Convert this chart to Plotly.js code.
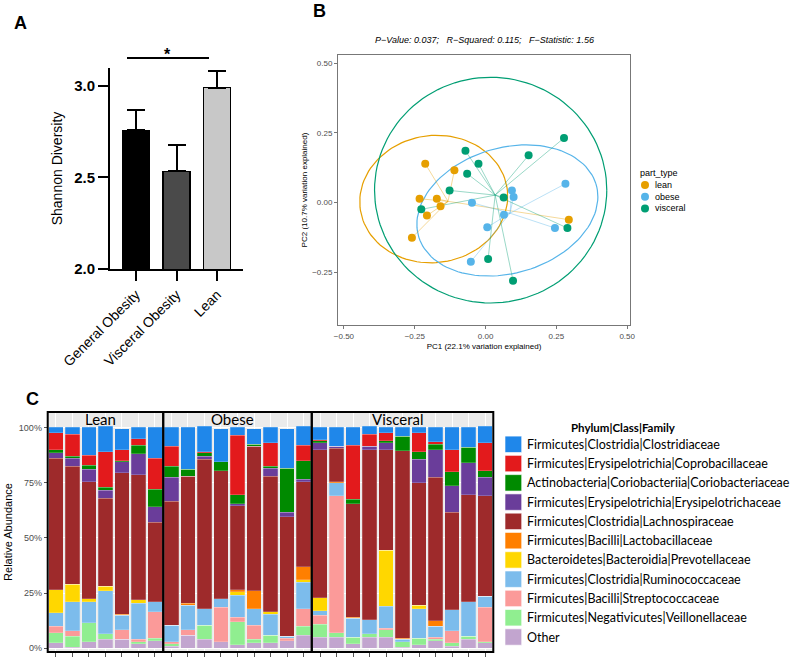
<!DOCTYPE html>
<html>
<head>
<meta charset="utf-8">
<script src="https://cdn.plot.ly/plotly-3.0.1.min.js"></script>
<style>
  body { margin: 0; background: #fff; }
  #chart { width: 800px; height: 665px; }
</style>
</head>
<body>
<div id="chart"></div>
<script>
// ---- panel A: Shannon diversity ----
const diversityGroups = ['General Obesity', 'Visceral Obesity', 'Lean'];
const shannonMean = [2.757, 2.534, 2.991];
const shannonErr = [0.11, 0.145, 0.09];
const diversityColors = ['#000000', '#4a4a4a', '#c8c8c8'];

// ---- panel B: PCoA (betadisper) ----
const pcoaGroups = ['lean', 'obese', 'visceral'];
const pcoaColors = ['#E69F00', '#56B4E9', '#009E73'];
const leanPC1 = [-0.213, -0.110, -0.233, -0.172, -0.159, -0.207, -0.260, 0.294];
const leanPC2 = [0.139, 0.115, 0.013, 0.013, -0.014, -0.047, -0.127, -0.062];
const obesePC1 = [0.093, 0.099, -0.048, 0.065, 0.006, 0.245, -0.052, 0.282];
const obesePC2 = [0.043, 0.019, -0.001, -0.044, -0.089, -0.092, -0.213, 0.067];
const visceralPC1 = [-0.071, -0.025, -0.065, -0.127, -0.227, 0.064, 0.009, 0.097, 0.152, 0.289, 0.277];
const visceralPC2 = [0.185, 0.139, 0.103, 0.043, -0.025, 0.018, -0.203, -0.281, 0.169, -0.092, 0.231];
// ellipse parameters
const ellipseCx = [-0.183, 0.077, 0.018];
const ellipseCy = [0.012, -0.029, 0.044];
const ellipseA = [0.262, 0.327, 0.41];
const ellipseB = [0.228, 0.225, 0.405];
const ellipseDeg = [9, 17, 0];

// ---- panel C: relative abundance ----
const sampleGroups = ['Lean', 'Obese', 'Visceral'];
const groupSizes = [7, 9, 11];
const familyNames = [
  'Firmicutes|Clostridia|Clostridiaceae',
  'Firmicutes|Erysipelotrichia|Coprobacillaceae',
  'Actinobacteria|Coriobacteriia|Coriobacteriaceae',
  'Firmicutes|Erysipelotrichia|Erysipelotrichaceae',
  'Firmicutes|Clostridia|Lachnospiraceae',
  'Firmicutes|Bacilli|Lactobacillaceae',
  'Bacteroidetes|Bacteroidia|Prevotellaceae',
  'Firmicutes|Clostridia|Ruminococcaceae',
  'Firmicutes|Bacilli|Streptococcaceae',
  'Firmicutes|Negativicutes|Veillonellaceae',
  'Other'
];
const familyColors = ['#1f87ea', '#e31a1c', '#008a00', '#6a3d9a', '#9e2a2b', '#ff7f00',
  '#ffd700', '#7cbcec', '#fb9a99', '#90ee90', '#c2a5cf'];

const clostridiaceae = [2.5, 3, 12.5, 11.5, 9.5, 5, 14,  8.5, 19, 11.5, 15, 3.5, 7, 7, 18, 8.5,  5.5, 8.5, 8, 3.5, 2.5, 4, 2.5, 6.5, 10, 9, 7.5];
const coprobacillaceae = [7.5, 10, 4.5, 16, 5, 3, 14,  9, 0, 0.5, 0, 27, 0, 10.5, 0, 7,  0.5, 0, 24.5, 5.5, 3.5, 0, 8.5, 1, 10, 0, 12.5];
const coriobacteriaceae = [1.5, 1, 2, 1.5, 0.5, 4, 8,  5, 3, 1.5, 4, 4, 1, 1, 20, 8.5,  1, 0, 2, 0, 1, 6.5, 3.5, 2.5, 6.5, 7, 3];
const erysipelotrichaceae = [2.5, 3.5, 5.5, 3.5, 5, 9.5, 7,  11, 0, 1.5, 0, 1, 0, 3.5, 2, 1,  3, 1, 0, 1.5, 3, 0, 10.5, 12.5, 12, 14.5, 8.5];
const lachnospiraceae = [59.5, 53.5, 53, 40, 64, 56.5, 36,  56, 57.5, 67.5, 58, 38, 65.5, 61.5, 54, 38.5,  67, 15, 51.5, 77, 45.5, 85, 55.5, 65, 44, 48.5, 45.5];
const lactobacillaceae = [0, 0, 0, 0, 0.5, 0, 0,  0, 1, 0, 0, 1, 8, 0, 0, 6,  0, 0.5, 0.5, 0, 0, 0.5, 0, 2.5, 0, 0, 0];
const prevotellaceae = [10.5, 8, 1.5, 2, 0, 1.5, 0,  0, 0, 0, 0, 1.5, 0, 1, 0, 1,  6, 0, 0, 0, 25.5, 0, 1.5, 0, 0, 0, 0];
const ruminococcaceae = [6, 13, 9.5, 19.5, 6.5, 16.5, 4.5,  7.5, 11, 7.5, 4, 10, 7.5, 9.5, 1, 12,  2, 6, 8.5, 6.5, 10, 1, 13.5, 5, 9.5, 15.5, 5];
const streptococcaceae = [3, 2.5, 0, 0, 4.5, 1, 12,  1, 2.5, 0, 15.5, 2, 6.5, 0, 1, 8,  4, 62, 0, 0, 0.5, 0, 0, 1, 5.5, 0, 15.5];
const veillonellaceae = [4.5, 5, 8.5, 2.5, 0, 1, 1,  1, 0, 6.5, 0, 10.5, 1.5, 3.5, 0, 4,  6, 2, 3, 1.5, 3.5, 2.5, 3, 0.5, 1.5, 1.5, 0.5];
const otherFamilies = [2.5, 0.5, 3, 4, 4, 2, 3.5,  1, 6, 4, 3, 1.5, 2.5, 2.5, 3.5, 6,  5, 5, 2, 5, 5, 0.5, 1.5, 3.5, 1, 4, 2.5];

const familyValues = [clostridiaceae, coprobacillaceae, coriobacteriaceae, erysipelotrichaceae,
  lachnospiraceae, lactobacillaceae, prevotellaceae, ruminococcaceae, streptococcaceae,
  veillonellaceae, otherFamilies];
const abundanceTicks = [0, 25, 50, 75, 100];

// pixel -> paper helpers
const W = 800, H = 665;
const px = x => x / W;
const py = y => 1 - y / H;

const FONT = 'Liberation Sans, Arial, sans-serif';
const CFONT = 'Lato, Open Sans, sans-serif';

let traces = [];
let shapes = [];
let annotations = [];

// text placed in pixel terms, anchors always explicit
function label(text, x, y, xanchor, size, family, extra) {
  annotations.push(Object.assign({
    text: text, xref: 'paper', yref: 'paper', x: px(x), y: py(y),
    xanchor: xanchor, yanchor: 'middle', showarrow: false, borderpad: 0,
    font: { family: family, size: size, color: '#000' }
  }, extra || {}));
}

// panel A
traces.push({
  type: 'bar', x: diversityGroups, y: shannonMean, width: 0.66,
  marker: { color: diversityColors, line: { color: '#000', width: 1.5 } },
  error_y: { type: 'data', array: shannonErr, arrayminus: shannonErr.map(() => 0), symmetric: false,
    color: '#000', thickness: 2, width: 9 },
  xaxis: 'x', yaxis: 'y', showlegend: false, hoverinfo: 'skip'
});
shapes.push({ type: 'line', xref: 'paper', yref: 'paper', x0: px(127), x1: px(209), y0: py(58), y1: py(58),
  line: { color: '#000', width: 2 } });
label('<b>*</b>', 167, 55, 'center', 16, FONT);

// panel B
const pcoaX = [leanPC1, obesePC1, visceralPC1];
const pcoaY = [leanPC2, obesePC2, visceralPC2];
const fadeColors = ['rgba(230,159,0,0.4)', 'rgba(86,180,233,0.4)', 'rgba(0,158,115,0.4)'];

pcoaGroups.forEach((g, i) => {
  // ellipse outline
  const ex = [], ey = [];
  const th = ellipseDeg[i] * Math.PI / 180;
  for (let k = 0; k <= 120; k++) {
    const t = 2 * Math.PI * k / 120;
    ex.push(ellipseCx[i] + ellipseA[i] * Math.cos(t) * Math.cos(th) - ellipseB[i] * Math.sin(t) * Math.sin(th));
    ey.push(ellipseCy[i] + ellipseA[i] * Math.cos(t) * Math.sin(th) + ellipseB[i] * Math.sin(t) * Math.cos(th));
  }
  traces.push({ type: 'scatter', mode: 'lines', x: ex, y: ey, line: { color: pcoaColors[i], width: 1.2 },
    xaxis: 'x2', yaxis: 'y2', showlegend: false, hoverinfo: 'skip' });
});
pcoaGroups.forEach((g, i) => {
  // spider lines from the group centroid
  const xs = pcoaX[i], ys = pcoaY[i];
  const cx = xs.reduce((a, b) => a + b, 0) / xs.length;
  const cy = ys.reduce((a, b) => a + b, 0) / ys.length;
  const lx = [], ly = [];
  xs.forEach((v, k) => { lx.push(cx, v, null); ly.push(cy, ys[k], null); });
  traces.push({ type: 'scatter', mode: 'lines', x: lx, y: ly, line: { color: fadeColors[i], width: 1 },
    xaxis: 'x2', yaxis: 'y2', showlegend: false, hoverinfo: 'skip' });
});
pcoaGroups.forEach((g, i) => {
  traces.push({ type: 'scatter', mode: 'markers', x: pcoaX[i], y: pcoaY[i], name: g,
    marker: { color: pcoaColors[i], size: 8 }, xaxis: 'x2', yaxis: 'y2', showlegend: false });
});
label('P\u2212Value: 0.037;   R\u2212Squared: 0.115;   F\u2212Statistic: 1.56', 485, 40, 'center', 9, FONT,
  { font: { family: FONT, size: 9, style: 'italic', color: '#000' } });
// legend for B
label('part_type', 639, 173, 'left', 9, FONT);
pcoaGroups.forEach((g, i) => {
  const yc = 185 + i * 11.7;
  shapes.push({ type: 'circle', xref: 'paper', yref: 'paper', x0: px(641), x1: px(649), y0: py(yc + 4), y1: py(yc - 4),
    fillcolor: pcoaColors[i], line: { width: 0 } });
  label(g, 654, yc, 'left', 9, FONT);
});

// panel C
const sampleIds = [];
sampleGroups.forEach((g, i) => { for (let k = 1; k <= groupSizes[i]; k++) sampleIds.push(g + ' ' + k); });
for (let i = familyNames.length - 1; i >= 0; i--) {
  traces.push({ type: 'bar', x: sampleIds, y: familyValues[i], name: familyNames[i],
    marker: { color: familyColors[i], line: { color: 'rgba(255,255,255,0.5)', width: 0.4 } },
    xaxis: 'x3', yaxis: 'y3', showlegend: false, hoverinfo: 'name+y' });
}
const cLeft = 47.7, cRight = 493.3;
const cDom = [px(cLeft), px(cRight)];
const cTop = py(412), cBot = py(652);
shapes.push({ type: 'rect', xref: 'paper', yref: 'paper', x0: cDom[0], x1: cDom[1], y0: cBot, y1: cTop,
  fillcolor: '#ebebeb', line: { width: 0 }, layer: 'below' });
const nSamples = sampleIds.length;
let start = 0;
sampleGroups.forEach((g, i) => {
  const x0 = cLeft + (start / nSamples) * (cRight - cLeft);
  const x1 = cLeft + ((start + groupSizes[i]) / nSamples) * (cRight - cLeft);
  shapes.push({ type: 'rect', xref: 'paper', yref: 'paper', x0: px(x0), x1: px(x1), y0: cBot, y1: cTop,
    line: { color: '#000', width: 2 }, fillcolor: 'rgba(0,0,0,0)' });
  label(g, (x0 + x1) / 2 - 5, 419, 'center', 15, CFONT);
  start += groupSizes[i];
});
// legend for C
label('<b>Phylum|Class|Family</b>', 623, 427, 'center', 11.5, CFONT);
familyNames.forEach((f, i) => {
  const yc = 444.3 + i * 19.27;
  shapes.push({ type: 'rect', xref: 'paper', yref: 'paper', x0: px(505), x1: px(521.7), y0: py(yc + 8.2), y1: py(yc - 8.2),
    fillcolor: familyColors[i], line: { color: 'rgba(255,255,255,0.6)', width: 1 } });
  label(f, 526, yc, 'left', 12.5, CFONT);
});

// panel letters
label('<b>A</b>', 20.5, 22.5, 'center', 18, FONT);
label('<b>B</b>', 319, 11, 'center', 18, FONT);
label('<b>C</b>', 32, 399, 'center', 18, FONT);

const layout = {
  width: W, height: H,
  margin: { l: 0, r: 0, t: 0, b: 0 },
  paper_bgcolor: '#fff', plot_bgcolor: 'rgba(0,0,0,0)',
  barmode: 'stack', bargap: 0.12,
  showlegend: false,
  font: { family: FONT, color: '#000' },
  xaxis: {
    domain: [px(110), px(243)], anchor: 'y', type: 'category', range: [-0.64, 2.64],
    showline: true, linecolor: '#000', linewidth: 2, ticks: 'outside', ticklen: 10, tickwidth: 2, tickcolor: '#000',
    tickangle: -45, tickfont: { family: FONT, size: 14, color: '#000' }, showgrid: false, zeroline: false,
    automargin: false
  },
  yaxis: {
    domain: [py(269), py(68)], anchor: 'x', range: [2.0, 3.098], tickvals: [2.0, 2.5, 3.0], tickformat: '.1f',
    showline: true, linecolor: '#000', linewidth: 2, ticks: 'outside', ticklen: 10, tickwidth: 2, tickcolor: '#000',
    tickfont: { family: FONT, size: 15, color: '#000', weight: 'bold' }, showgrid: false, zeroline: false,
    title: { text: 'Shannon Diversity', font: { family: FONT, size: 14, color: '#000' }, standoff: 8 },
    automargin: false
  },
  xaxis2: {
    domain: [px(338), px(630)], anchor: 'y2', range: [-0.521, 0.51], tickvals: [-0.5, -0.25, 0, 0.25, 0.5],
    tickformat: '.2f', showline: true, mirror: true, linecolor: '#777', linewidth: 1,
    ticks: 'outside', ticklen: 3, tickcolor: '#777', tickfont: { family: FONT, size: 8, color: '#4d4d4d' },
    showgrid: false, zeroline: false,
    title: { text: 'PC1 (22.1% variation explained)', font: { family: FONT, size: 8, color: '#000' }, standoff: 3 },
    automargin: false
  },
  yaxis2: {
    domain: [py(325), py(55)], anchor: 'x2', range: [-0.44, 0.529], tickvals: [-0.5, -0.25, 0, 0.25, 0.5],
    tickformat: '.2f', showline: true, mirror: true, linecolor: '#777', linewidth: 1,
    ticks: 'outside', ticklen: 3, tickcolor: '#777', tickfont: { family: FONT, size: 8, color: '#4d4d4d' },
    showgrid: false, zeroline: false,
    title: { text: 'PC2 (10.7% variation explained)', font: { family: FONT, size: 8, color: '#000' }, standoff: 3 },
    automargin: false
  },
  xaxis3: {
    domain: cDom, anchor: 'y3', type: 'category', range: [-0.5, nSamples - 0.5],
    showticklabels: false, ticks: 'outside', ticklen: 4, tickcolor: '#555',
    showgrid: true, gridcolor: '#ffffff', gridwidth: 1, showline: false, zeroline: false, automargin: false
  },
  yaxis3: {
    domain: [cBot, cTop], anchor: 'x3', range: [-1.68, 107.0],
    tickvals: abundanceTicks, ticktext: abundanceTicks.map(v => v + '%'),
    ticks: 'outside', ticklen: 3, tickcolor: '#555', tickfont: { family: FONT, size: 9, color: '#4d4d4d' },
    showgrid: true, gridcolor: '#ffffff', zeroline: false, showline: false,
    title: { text: 'Relative Abundance', font: { family: FONT, size: 11, color: '#000' }, standoff: 4 },
    automargin: false
  },
  shapes: shapes,
  annotations: annotations
};

Plotly.newPlot('chart', traces, layout, { displayModeBar: false, staticPlot: true });
</script>
</body>
</html>
